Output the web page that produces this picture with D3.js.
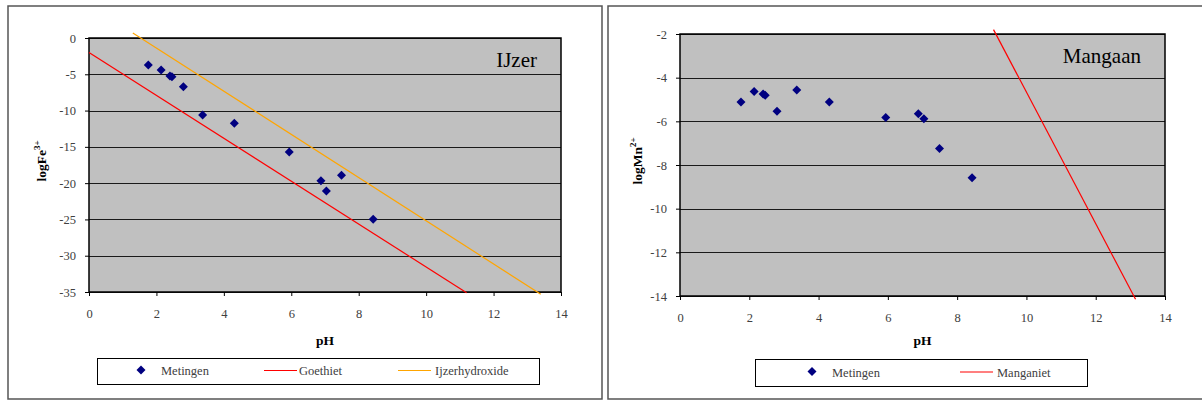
<!DOCTYPE html>
<html lang="nl">
<head>
<meta charset="UTF-8">
<title>IJzer en Mangaan</title>
<script src="https://d3js.org/d3.v7.min.js"></script>
<style>
  body { margin: 0; background: #fff; }
  svg text { font-family: "Liberation Serif", "Times New Roman", serif !important; }
</style>
</head>
<body>
<div id="container"></div>
<script>
// Gemeten pH van de monsters
const ph = [1.76, 2.14, 2.40, 2.46, 2.80, 3.37, 4.31, 5.94, 6.88, 7.04, 7.49, 8.43];
// logFe3+ en logMn2+ per monster
const logFe = [-3.72, -4.41, -5.24, -5.33, -6.71, -10.61, -11.75, -15.71, -19.66, -21.08, -18.92, -24.99];
const logMn = [-5.11, -4.63, -4.75, -4.81, -5.54, -4.57, -5.11, -5.82, -5.65, -5.88, -7.24, -8.58];

// Evenwichtslijnen (begin- en eindpunt)
const goethiet = [[0, -2], [11.2, -35.1]];
const ijzerhydroxide = [[1.3, 0.7], [13.4, -35.3]];
const manganiet = [[9.05, -1.8], [13.15, -14.15]];

// Astickwaarden
const xTicks = d3.range(0, 15, 2);
const yTicksFe = d3.range(0, -36, -5);
const yTicksMn = d3.range(-2, -15, -2);

const svg = d3.select("#container").append("svg")
  .attr("width", 1202).attr("height", 401);

function drawChart(opt) {
  const g = svg.append("g");

  // Kader rond de grafiek
  g.append("rect")
    .attr("x", opt.frame[0]).attr("y", opt.frame[1])
    .attr("width", opt.frame[2]).attr("height", opt.frame[3])
    .attr("fill", "#fff").attr("stroke", "#555").attr("stroke-width", 1.5);

  const x = d3.scaleLinear().domain([0, 14]).range([opt.left, opt.right]);
  const y = d3.scaleLinear().domain(opt.yDomain).range([opt.top, opt.bottom]);

  // Plotgebied
  g.append("rect")
    .attr("x", opt.left).attr("y", opt.top)
    .attr("width", opt.right - opt.left).attr("height", opt.bottom - opt.top)
    .attr("fill", "#c0c0c0");

  // Rasterlijnen
  g.append("g").selectAll("line").data(opt.yTicks).join("line")
    .attr("x1", opt.left).attr("x2", opt.right)
    .attr("y1", d => Math.round(y(d)) + 0.5).attr("y2", d => Math.round(y(d)) + 0.5)
    .attr("stroke", "#1a1a1a");

  g.append("rect")
    .attr("x", opt.left).attr("y", opt.top)
    .attr("width", opt.right - opt.left).attr("height", opt.bottom - opt.top)
    .attr("fill", "none").attr("stroke", "#000").attr("stroke-width", 1.5);

  // Assen
  const xAxis = g.append("g")
    .attr("transform", `translate(0,${opt.bottom})`)
    .call(d3.axisBottom(x).tickValues(xTicks).tickFormat(d => String(d))
      .tickSize(4).tickSizeOuter(0).tickPadding(13));
  const yAxis = g.append("g")
    .attr("transform", `translate(${opt.left},0)`)
    .call(d3.axisLeft(y).tickValues(opt.yTicks).tickFormat(d => String(d))
      .tickSize(4).tickSizeOuter(0).tickPadding(9));
  [xAxis, yAxis].forEach(a => {
    a.select(".domain").remove();
    a.selectAll("line").attr("stroke", "#000");
    a.selectAll("text").attr("font-size", 12.5).attr("fill", "#404040");
  });

  // Astitels
  g.append("text")
    .attr("x", (opt.left + opt.right) / 2).attr("y", 345)
    .attr("text-anchor", "middle").attr("font-weight", "bold").attr("font-size", 13.5)
    .text("pH");
  const yl = g.append("text")
    .attr("transform", `translate(${opt.yLabelX},${(opt.top + opt.bottom) / 2 - 4}) rotate(-90)`)
    .attr("text-anchor", "middle").attr("font-weight", "bold").attr("font-size", 13.5);
  yl.append("tspan").text(opt.yLabel[0]);
  yl.append("tspan").attr("dy", -6).attr("font-size", 9).text(opt.yLabel[1]);

  // Lijnen
  const line = d3.line().x(d => x(d[0])).y(d => y(d[1]));
  opt.lines.forEach(l => {
    g.append("path").datum(l.data)
      .attr("d", line).attr("fill", "none")
      .attr("stroke", l.color).attr("stroke-width", 1.2);
  });

  // Meetpunten
  g.append("g").selectAll("path").data(opt.points).join("path")
    .attr("transform", d => `translate(${x(d[0])},${y(d[1])})`)
    .attr("d", "M0,-4.5L4.5,0L0,4.5L-4.5,0Z")
    .attr("fill", "#000080");

  // Naam
  g.append("text")
    .attr("x", opt.nameX).attr("y", opt.top + 29)
    .attr("text-anchor", "end").attr("font-size", 21)
    .text(opt.name);

  // Legenda
  const lg = g.append("g");
  lg.append("rect")
    .attr("x", opt.legend[0] + 0.5).attr("y", opt.legend[1] + 0.5)
    .attr("width", opt.legend[2]).attr("height", opt.legend[3])
    .attr("fill", "#fff").attr("stroke", "#000");
  const ly = opt.legend[1] + opt.legend[3] / 2;
  opt.legendItems.forEach(it => {
    if (it.type === "point") {
      lg.append("path")
        .attr("transform", `translate(${it.x},${ly - 1})`)
        .attr("d", "M0,-4.5L4.5,0L0,4.5L-4.5,0Z").attr("fill", "#000080");
    } else {
      lg.append("line")
        .attr("x1", it.x - 17).attr("x2", it.x + 16)
        .attr("y1", ly - 0.5).attr("y2", ly - 0.5)
        .attr("stroke", it.color).attr("stroke-width", 1.2);
    }
    lg.append("text")
      .attr("x", it.tx).attr("y", ly + 4)
      .attr("font-size", 12.5).attr("fill", "#404040")
      .text(it.label);
  });
}

drawChart({
  frame: [8, 6, 594, 393],
  left: 89, right: 561, top: 38, bottom: 292,
  yDomain: [0, -35], yTicks: yTicksFe,
  yLabel: ["logFe", "3+"], yLabelX: 46,
  name: "IJzer", nameX: 537,
  points: ph.map((p, i) => [p, logFe[i]]),
  lines: [
    { data: goethiet, color: "#ff0000" },
    { data: ijzerhydroxide, color: "#ffa500" }
  ],
  legend: [97, 358, 442, 26],
  legendItems: [
    { type: "point", x: 141, tx: 161, label: "Metingen" },
    { type: "line", x: 281, color: "#ff0000", tx: 299, label: "Goethiet" },
    { type: "line", x: 415, color: "#ffa500", tx: 435, label: "Ijzerhydroxide" }
  ]
});

drawChart({
  frame: [608, 6, 600, 393],
  left: 680, right: 1165, top: 34, bottom: 296,
  yDomain: [-2, -14], yTicks: yTicksMn,
  yLabel: ["logMn", "2+"], yLabelX: 642,
  name: "Mangaan", nameX: 1141,
  points: ph.map((p, i) => [p, logMn[i]]),
  lines: [
    { data: manganiet, color: "#ff0000" }
  ],
  legend: [755, 359, 332, 27],
  legendItems: [
    { type: "point", x: 812, tx: 832, label: "Metingen" },
    { type: "line", x: 977, color: "#ff0000", tx: 997, label: "Manganiet" }
  ]
});
</script>
</body>
</html>
